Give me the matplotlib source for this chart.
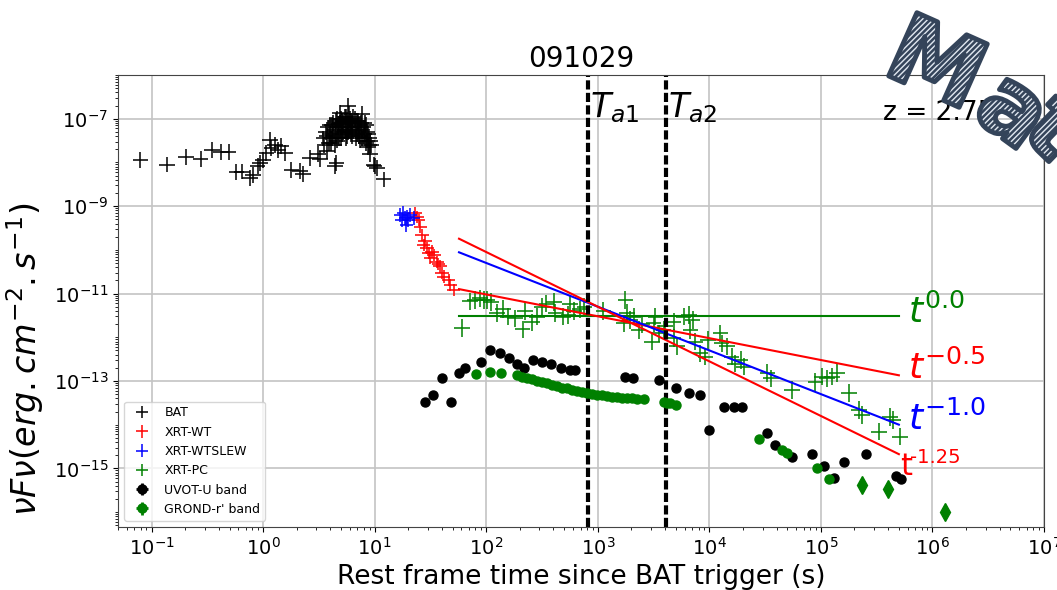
import numpy as np
import matplotlib
matplotlib.use("Agg")
import matplotlib.pyplot as plt
from matplotlib.ticker import LogLocator, FixedLocator, NullFormatter
from matplotlib.textpath import TextPath
from matplotlib.patches import PathPatch
from matplotlib.transforms import Affine2D, IdentityTransform
from matplotlib.font_manager import FontProperties

# light curve points, stored as log10(time [s]) and log10(nuFnu [erg cm-2 s-1])
bat_log_t = [-1.10, -0.86, -0.69, -0.56, -0.46, -0.38, -0.31, -0.24, -0.19, -0.12,
             -0.09, -0.05, -0.03, 0.00, 0.03, 0.06, 0.075, 0.105, 0.135, 0.164,
             0.195, 0.254, 0.329, 0.359, 0.419, 0.493, 0.51, 0.54, 0.56, 0.57,
             0.58, 0.60, 0.61, 0.62, 0.63, 0.64, 0.646, 0.65, 0.657, 0.66, 0.67,
             0.68, 0.69, 0.70, 0.70, 0.71, 0.72, 0.73, 0.74, 0.75, 0.76, 0.76,
             0.77, 0.78, 0.79, 0.80, 0.81, 0.82, 0.83, 0.84, 0.85, 0.86, 0.87,
             0.885, 0.89, 0.90, 0.91, 0.92, 0.93, 0.94, 0.95, 0.96, 0.97, 0.99,
             1.00, 1.02, 1.08,
             0.55, 0.57, 0.59, 0.60, 0.62, 0.63, 0.64, 0.65, 0.66, 0.67,
             0.68, 0.69, 0.70, 0.71, 0.72, 0.73, 0.74, 0.745, 0.75, 0.76,
             0.77, 0.78, 0.79, 0.80, 0.81, 0.82, 0.83, 0.84, 0.85, 0.86,
             0.87, 0.88, 0.89, 0.90, 0.91, 0.92, 0.93, 0.94, 0.95, 0.96]
bat_log_f = [-7.94, -8.05, -7.88, -7.92, -7.71, -7.76, -7.76, -8.22, -8.21, -8.36,
             -8.28, -8.09, -8.01, -7.94, -7.79, -7.48, -7.67, -7.60, -7.71, -7.63,
             -7.79, -8.17, -8.19, -8.27, -7.90, -7.81, -7.93, -7.45, -7.30, -7.74,
             -7.20, -7.35, -7.55, -7.15, -7.40, -7.25, -8.08, -7.05, -8.01, -7.50,
             -7.30, -7.12, -6.86, -7.20, -7.45, -7.05, -7.30, -6.95, -7.15, -7.40,
             -6.71, -7.10, -7.25, -7.00, -7.35, -7.10, -6.95, -7.20, -7.45, -7.05,
             -7.30, -7.15, -7.50, -6.90, -7.25, -7.40, -7.10, -7.55, -7.30, -7.65,
             -7.45, -7.80, -7.60, -8.05, -8.09, -8.12, -8.39,
             -7.60, -7.40, -7.55, -7.15, -7.45, -7.10, -7.60, -7.35, -7.00, -7.20,
             -7.45, -7.10, -7.00, -7.35, -7.10, -7.25, -6.95, -7.45, -7.05, -7.30,
             -6.90, -7.20, -7.05, -7.40, -7.20, -7.00, -7.25, -7.35, -7.05, -7.40,
             -7.20, -7.10, -7.45, -7.20, -7.35, -7.15, -7.50, -7.35, -7.60, -7.50]

wt_log_t = [1.363, 1.393, 1.408, 1.423, 1.438, 1.468, 1.483, 1.513, 1.498, 1.558,
            1.587, 1.603, 1.617, 1.662, 1.677, 1.707, 1.38, 1.45, 1.53, 1.57]
wt_log_f = [-9.16, -9.31, -9.47, -9.66, -9.89, -9.96, -10.08, -10.04, -10.19, -10.27,
            -10.38, -10.53, -10.61, -10.69, -10.80, -10.92, -9.25, -9.80, -10.12, -10.33]

slew_log_t = [1.229, 1.258, 1.274, 1.289, 1.303, 1.283, 1.318, 1.244, 1.348]
slew_log_f = [-9.20, -9.16, -9.27, -9.24, -9.31, -9.43, -9.20, -9.31, -9.27]

pc_log_t = [1.782, 1.857, 1.90, 1.946, 1.979, 2.006, 2.045, 2.096, 2.194, 2.259,
            2.326, 2.408, 2.457, 2.540, 2.605, 2.688, 2.737, 2.787, 2.837, 3.231,
            3.247, 3.262, 3.291, 3.321, 3.366, 3.486, 3.50, 3.516, 3.545, 3.59,
            3.68, 3.68, 3.71, 3.77, 3.815, 3.83, 3.875, 3.92, 3.964, 3.99, 4.10,
            4.11, 4.16, 4.20, 4.23, 4.28, 4.31, 4.52, 4.55, 4.74, 4.95, 5.01,
            5.055, 5.10, 5.145, 5.25, 5.34, 5.37, 5.52, 5.62, 5.65, 5.71,
            2.15, 2.35, 2.50, 2.62, 2.75, 2.88, 3.05, 3.40, 3.60, 3.85]
pc_log_f = [-11.79, -11.18, -11.15, -11.11, -11.15, -11.15, -11.19, -11.45, -11.53, -11.57,
            -11.82, -11.66, -11.53, -11.23, -11.19, -11.53, -11.49, -11.40, -11.36, -11.68,
            -11.15, -11.45, -11.60, -11.53, -11.83, -12.10, -11.68, -11.53, -11.91, -11.83,
            -11.64, -12.02, -12.21, -11.53, -11.49, -11.83, -12.10, -12.37, -12.44, -12.06, -11.91,
            -12.14, -12.21, -12.44, -12.60, -12.52, -12.67, -12.82, -12.94, -13.21, -13.02, -12.90,
            -12.94, -12.90, -12.82, -13.28, -13.66, -13.78, -14.16, -13.82, -13.89, -14.27,
            -11.35, -11.40, -11.30, -11.45, -11.25, -11.30, -11.40, -11.70, -11.75, -11.60]

uvot_log_t = [1.453, 1.527, 1.603, 1.683, 1.752, 1.806, 1.952, 2.03, 2.12, 2.20,
              2.275, 2.335, 2.419, 2.50, 2.58, 2.67, 2.747, 2.80, 3.247, 3.316,
              3.545, 3.70, 3.815, 3.92, 3.994, 4.13, 4.22, 4.29, 4.516, 4.59,
              4.74, 4.92, 5.03, 5.12, 5.21, 5.40, 5.67, 5.72]
uvot_log_f = [-13.47, -13.32, -12.94, -13.47, -12.82, -12.71, -12.56, -12.29, -12.37, -12.48,
              -12.60, -12.71, -12.52, -12.56, -12.60, -12.71, -12.75, -12.75, -12.90, -12.94,
              -12.98, -13.17, -13.27, -13.33, -14.11, -13.59, -13.59, -13.59, -14.18, -14.47,
              -14.75, -14.67, -14.95, -15.23, -14.85, -14.68, -15.18, -15.25]

grond_log_t = [1.91, 2.036, 2.13, 2.28, 2.32, 2.365, 2.41, 2.455, 2.50, 2.544,
               2.59, 2.634, 2.68, 2.724, 2.77, 2.81, 2.86, 2.90, 2.95, 2.99,
               3.04, 3.08, 3.13, 3.17, 3.22, 3.26, 3.31, 3.35, 3.41, 3.59,
               3.62, 3.65, 3.70, 4.445, 4.65, 4.70, 4.965, 5.07]
grond_log_f = [-12.85, -12.80, -12.82, -12.86, -12.90, -12.94, -12.96, -12.99, -13.02, -13.05,
               -13.09, -13.12, -13.15, -13.17, -13.20, -13.22, -13.25, -13.27, -13.29, -13.31,
               -13.33, -13.34, -13.36, -13.37, -13.38, -13.39, -13.40, -13.41, -13.42, -13.48,
               -13.50, -13.51, -13.55, -14.32, -14.57, -14.64, -15.00, -15.25]
# late GROND points with large error bars
grond_late_log_t = [5.37, 5.60, 6.11]
grond_late_log_f = [-15.38, -15.48, -15.99]

# power-law guides: index, log10 normalisation, colour
fit_t = [57.0, 5.0e5]
fit_index = [0.0, -0.5, -1.0, -1.25]
fit_log_norm = [-11.52, -10.02, -8.30, -7.55]
fit_colors = ["green", "red", "blue", "red"]

t_break = [822.0, 4110.0]
y_ticks = [1e-15, 1e-13, 1e-11, 1e-9, 1e-7]
redshift_label = "z = 2.75"
grb_name = "091029"


def with_err(log_t, log_f, dx, dy):
    lt = np.array(log_t)
    lf = np.array(log_f)
    t = 10 ** lt
    f = 10 ** lf
    xerr = [t - 10 ** (lt - dx), 10 ** (lt + dx) - t]
    yerr = [f - 10 ** (lf - dy), 10 ** (lf + dy) - f]
    return t, f, xerr, yerr


W, H = 1057, 590
fig = plt.figure(figsize=(W / 100, H / 100), dpi=100)
ax = fig.add_axes([118 / W, 63 / H, 926 / W, 452 / H])
ax.set_xscale("log")
ax.set_yscale("log")

t, f, xe, ye = with_err(bat_log_t, bat_log_f, 0.07, 0.18)
ax.errorbar(t, f, xerr=xe, yerr=ye, fmt="none", ecolor="black", elinewidth=1.1, label="BAT")
t, f, xe, ye = with_err(wt_log_t, wt_log_f, 0.06, 0.14)
ax.errorbar(t, f, xerr=xe, yerr=ye, fmt="none", ecolor="red", elinewidth=1.1, label="XRT-WT")
t, f, xe, ye = with_err(slew_log_t, slew_log_f, 0.06, 0.16)
ax.errorbar(t, f, xerr=xe, yerr=ye, fmt="none", ecolor="blue", elinewidth=1.1, label="XRT-WTSLEW")
t, f, xe, ye = with_err(pc_log_t, pc_log_f, 0.07, 0.2)
ax.errorbar(t, f, xerr=xe, yerr=ye, fmt="none", ecolor="green", elinewidth=1.1, label="XRT-PC")

t, f, xe, ye = with_err(uvot_log_t, uvot_log_f, 0.02, 0.04)
ax.errorbar(t, f, xerr=xe, yerr=ye, fmt="o", color="black", ms=6.5, elinewidth=2,
            label="UVOT-U band")
t, f, xe, ye = with_err(grond_log_t, grond_log_f, 0.02, 0.04)
ax.errorbar(t, f, xerr=xe, yerr=ye, fmt="o", color="green", ms=6.5, elinewidth=2,
            label="GROND-r' band")
t, f, xe, ye = with_err(grond_late_log_t, grond_late_log_f, 0.0, 0.08)
ax.errorbar(t, f, yerr=ye, fmt="d", color="green", ms=9, elinewidth=2)

for idx, lnorm, col in zip(fit_index, fit_log_norm, fit_colors):
    tt = np.array(fit_t)
    ax.plot(tt, 10 ** lnorm * tt ** idx, color=col, lw=1.5)

for tb in t_break:
    ax.axvline(tb, color="black", ls=(0, (2.2, 0.8)), lw=3)
ax.text(t_break[0] * 1.03, 1.05e-7, r"$T_{a1}$", fontsize=24, ha="left", va="baseline")
ax.text(t_break[1] * 1.03, 1.05e-7, r"$T_{a2}$", fontsize=24, ha="left", va="baseline")

ax.text(10 ** 5.785, 10 ** -11.68, r"$t^{0.0}$", color="green", fontsize=26, va="baseline")
ax.text(10 ** 5.785, 10 ** -12.96, r"$t^{-0.5}$", color="red", fontsize=26, va="baseline")
ax.text(10 ** 5.785, 10 ** -14.11, r"$t^{-1.0}$", color="blue", fontsize=26, va="baseline")
ax.text(10 ** 5.713, 10 ** -15.15, "t", color="red", fontsize=22, va="baseline")
ax.text(10 ** 5.80, 10 ** -14.88, "-1.25", color="red", fontsize=14, va="baseline")

ax.text(10 ** 5.56, 10 ** -7.02, redshift_label, fontsize=19, va="baseline")

ax.set_xlim(0.05, 1e7)
ax.set_ylim(10 ** -16.34, 1e-6)
ax.xaxis.set_major_locator(LogLocator(base=10, numticks=20))
ax.xaxis.set_minor_locator(LogLocator(base=10, subs=np.arange(2, 10), numticks=20))
ax.xaxis.set_minor_formatter(NullFormatter())
ax.yaxis.set_major_locator(FixedLocator(y_ticks))
ax.yaxis.set_minor_locator(LogLocator(base=10, subs=np.arange(1, 10), numticks=30))
ax.yaxis.set_minor_formatter(NullFormatter())
ax.tick_params(labelsize=14)
ax.grid(True, which="major", color="#c4c4c4", lw=1.2)
for s in ax.spines.values():
    s.set_color("#444444")

ax.set_title(grb_name, fontsize=20, pad=6)
ax.set_xlabel("Rest frame time since BAT trigger (s)", fontsize=19)
ax.set_ylabel(r"$\nu F\nu (erg.cm^{-2}.s^{-1})$", fontsize=24)
ax.yaxis.set_label_coords(-0.078, 0.37)

ax.legend(loc="lower left", fontsize=9, borderaxespad=0.5, labelspacing=0.5)

# stylised lettering in the top-right corner
fp = FontProperties(family="DejaVu Sans", weight="bold")
plt.rcParams["hatch.linewidth"] = 1.8
for ch, (cx, cy), ang in zip("Mat", [(938, 60), (1010, 112), (1058, 124)], [-24, -36, -44]):
    tp = TextPath((0, 0), ch, size=95, prop=fp)
    bb = tp.get_extents()
    tr = (Affine2D().translate(-(bb.x0 + bb.x1) / 2, -(bb.y0 + bb.y1) / 2)
          .rotate_deg(ang).translate(cx, H - cy))
    patch = PathPatch(tr.transform_path(tp), facecolor="#dfe6ef", edgecolor="#34445a",
                      hatch="//////", lw=3.5, joinstyle="round")
    patch.set_transform(IdentityTransform())
    fig.add_artist(patch)

fig.savefig("out.png", dpi=100)
